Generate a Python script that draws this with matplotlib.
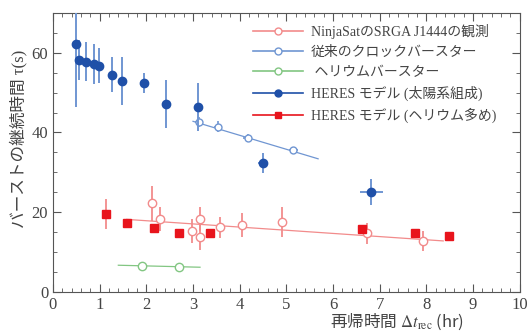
import matplotlib
matplotlib.use('Agg')
import matplotlib.pyplot as plt
from matplotlib.lines import Line2D
from matplotlib.ticker import MultipleLocator

plt.rcParams['mathtext.fontset'] = 'stix'
FONTS = ['Liberation Serif', 'Noto Sans CJK JP', 'DejaVu Sans']
JP_FIRST = ['Noto Sans CJK JP', 'Liberation Serif', 'DejaVu Sans']

RED = '#e8141c'
LRED = '#f28b8b'
BLUE = '#1f50a8'
LBLUE = '#7096d2'
GREEN = '#82c682'
INK = '#444444'

# NinjaSat observations of SRGA J1444
ninja_x = [2.13, 2.29, 2.97, 3.16, 3.15, 3.58, 4.05, 4.90, 6.73, 7.92]
ninja_y = [22.3, 18.3, 15.3, 18.2, 13.7, 16.2, 16.7, 17.6, 14.7, 12.8]
ninja_err = [4.4, 3.0, 3.0, 3.0, 3.2, 2.6, 3.0, 3.8, 2.7, 2.5]
ninja_fit_x = [1.58, 8.36]
ninja_fit_y = [18.2, 12.8]

# past clocked bursters
clock_x = [3.12, 3.54, 4.17, 5.15]
clock_y = [42.6, 41.5, 38.6, 35.5]
clock_yerr = [1.2, 1.5, 1.0, 0.9]
clock_xerr = [0.08, 0.08, 0.1, 0.1]
clock_fit_x = [3.0, 5.68]
clock_fit_y = [42.8, 33.4]

# helium bursters
he_x = [1.90, 2.70]
he_y = [6.5, 6.3]
he_fit_x = [1.40, 3.15]
he_fit_y = [6.7, 6.2]

# HERES model, solar composition
solar_x = [0.49, 0.56, 0.71, 0.88, 0.99, 1.26, 1.47, 1.96, 2.43, 3.11, 4.50, 6.82]
solar_y = [62.3, 58.2, 57.8, 57.2, 56.8, 54.5, 53.0, 52.4, 47.2, 46.3, 32.3, 25.1]
solar_yerr = [16.0, 5.0, 5.0, 5.0, 4.5, 4.4, 6.0, 2.5, 6.0, 6.0, 2.5, 3.3]
solar_xerr = [0, 0, 0, 0, 0, 0, 0, 0, 0, 0, 0.1, 0.25]

# HERES model, helium rich
herich_x = [1.13, 1.59, 2.17, 2.70, 3.36, 6.63, 7.76, 8.49]
herich_y = [19.5, 17.2, 16.1, 14.8, 14.7, 15.9, 14.8, 14.0]
herich_err = [3.8, 0.5, 1.0, 1.0, 0.6, 0.6, 0.5, 0.5]

fig = plt.figure(figsize=(5.32, 3.31), dpi=100)
ax = fig.add_axes([0.0996, 0.118, 0.8774, 0.843])

ax.plot(ninja_fit_x, ninja_fit_y, color=LRED, lw=0.9)
ax.plot(clock_fit_x, clock_fit_y, color=LBLUE, lw=0.9)
ax.plot(he_fit_x, he_fit_y, color=GREEN, lw=0.9)

ax.errorbar(ninja_x, ninja_y, yerr=ninja_err, fmt='o', ms=6, mfc='white',
            mec=LRED, ecolor=LRED, elinewidth=1.3, mew=1.0, zorder=3)
ax.errorbar(clock_x, clock_y, yerr=clock_yerr, xerr=clock_xerr, fmt='o', ms=5,
            mfc='white', mec=LBLUE, ecolor=LBLUE, elinewidth=1.2, mew=1.0, zorder=3)
ax.errorbar(he_x, he_y, fmt='o', ms=6, mfc='white', mec=GREEN, mew=1.0, zorder=3)
ax.errorbar(solar_x, solar_y, yerr=solar_yerr, xerr=solar_xerr, fmt='o', ms=6,
            color=BLUE, ecolor=LBLUE, elinewidth=1.4, zorder=4)
ax.errorbar(herich_x, herich_y, yerr=herich_err, fmt='s', ms=5.5,
            color=RED, ecolor=LRED, elinewidth=1.3, zorder=4)

ax.set_xlim(0, 10)
ax.set_ylim(0, 70)
ax.xaxis.set_major_locator(MultipleLocator(1))
ax.xaxis.set_minor_locator(MultipleLocator(0.2))
ax.yaxis.set_major_locator(MultipleLocator(20))
ax.yaxis.set_minor_locator(MultipleLocator(5))
ax.tick_params(which='both', direction='in', top=True, right=True, color='#555555',
               labelcolor=INK)
ax.tick_params(which='major', length=6, labelsize=12)
ax.tick_params(which='minor', length=3)
for lab in ax.get_xticklabels() + ax.get_yticklabels():
    lab.set_family(FONTS)
for s in ax.spines.values():
    s.set_color('#555555')
    s.set_linewidth(0.8)

ax.set_xlabel(r'再帰時間 $\Delta t_{\rm rec}$ (hr)', fontsize=12, family=JP_FIRST,
              labelpad=-1, color=INK, x=0.737)
ax.set_ylabel('バーストの継続時間 τ(s)', fontsize=12, family=FONTS,
              labelpad=3, color=INK, y=0.55)

handles = [
    Line2D([], [], color=LRED, marker='o', mfc='white', mec=LRED, ms=5, lw=1.2),
    Line2D([], [], color=LBLUE, marker='o', mfc='white', mec=LBLUE, ms=5, lw=1.2),
    Line2D([], [], color=GREEN, marker='o', mfc='white', mec=GREEN, ms=5, lw=1.2),
    Line2D([], [], color=BLUE, marker='o', ms=5, lw=1.2),
    Line2D([], [], color=RED, marker='s', ms=5, lw=1.2),
]
labels = ['NinjaSatのSRGA J1444の観測', '従来のクロックバースター', ' ヘリウムバースター',
          'HERES モデル (太陽系組成)', 'HERES モデル (ヘリウム多め)']
ax.legend(handles, labels, loc='upper right', frameon=False, handlelength=3.6,
          handletextpad=0.6, prop={'family': FONTS, 'size': 10}, labelspacing=0.5,
          bbox_to_anchor=(0.977, 1.005), labelcolor=INK)

fig.savefig('out.png', dpi=100)
